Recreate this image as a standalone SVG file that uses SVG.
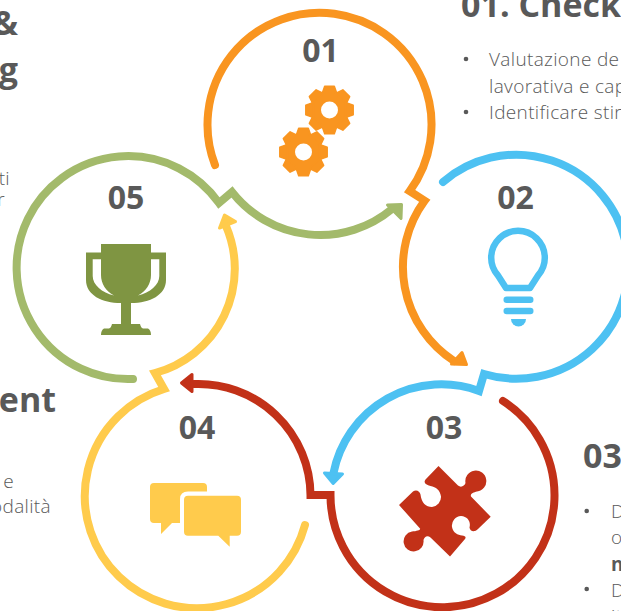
<svg xmlns="http://www.w3.org/2000/svg" width="621" height="611" viewBox="0 0 621 611">
<style>
.h{font-family:"Open Sans","Liberation Sans",sans-serif;font-weight:700;font-size:34px;fill:#595959}
.n{font-family:"Open Sans","Liberation Sans",sans-serif;font-weight:700;font-size:32px;fill:#595959;text-anchor:middle}
.b{font-family:"Open Sans","Liberation Sans",sans-serif;font-weight:300;font-size:19px;letter-spacing:.35px;fill:#595959}
.bb{font-weight:700}
.e{text-anchor:end}
.r{fill:none;stroke-width:8;stroke-linecap:round;stroke-linejoin:miter;stroke-miterlimit:10}
.a{stroke-width:3;stroke-linejoin:round}
.orange{stroke:#F99520}.blue{stroke:#4DC1F2}.red{stroke:#C23118}.yellow{stroke:#FFCB4C}.green{stroke:#A3BA6B}
.fo{fill:#F99520}.fb{fill:#4DC1F2}.fr{fill:#C23118}.fy{fill:#FFCB4C}.fg{fill:#A3BA6B}
.gear{fill:#F99520;stroke:#F99520;stroke-width:1.5;stroke-linejoin:round}
</style>
<defs>
<g id="gear">
<circle r="18.500"/>
<g id="t4"><path id="tooth" d="M-4.800-23.700H4.800L7.500-16H-7.500Z"/><use href="#tooth" transform="rotate(45)"/><use href="#tooth" transform="rotate(90)"/><use href="#tooth" transform="rotate(135)"/></g>
<use href="#t4" transform="rotate(180)"/>
<circle r="8.500" fill="#fff" stroke="none"/>
</g>
</defs>
<rect width="621" height="611" fill="#fff"/>
<g id="connectors">
<path class="r orange" d="M215 165A112 112 0 1 1 409.700 191.100L424.700 200.700A112 112 0 0 0 454 361"/>
<polygon class="a orange fo" points="451.500,364 462,352.500 466.500,364.500"/>
<path class="r blue" d="M443 182A112 112 0 1 1 484 374L479 391A110 110 0 0 0 333.500 473"/>
<polygon class="a blue fb" points="324.500,473 342.500,474 333.200,483.500"/>
<path class="r red" d="M503 401A112 112 0 1 1 330.500 495H310.500A112 112 0 0 0 194 384"/>
<polygon class="a red fr" points="181.500,383 192,374.500 192,391.500"/>
<path class="r yellow" d="M305 525A112 112 0 1 1 164 389L155 373A108 108 0 0 0 226 226"/>
<polygon class="a yellow fy" points="224.500,215 219.500,228 235.500,221.500"/>
<path class="r green" d="M133 379A111.500 111.500 0 1 1 219 203L232 192A112 112 0 0 0 392 209"/>
<polygon class="a green fg" points="401.500,204.500 387.500,205 401,218.500"/>
</g>
<g id="node-01">
<text class="n" x="320.500" y="62">01</text>
<use href="#gear" class="gear" x="329.500" y="110"/>
<use href="#gear" class="gear" x="303.500" y="152"/>
</g>
<g id="node-02">
<text class="n" x="515.500" y="209">02</text>
<path d="M506 288H530L538 275.500A26.800 26.800 0 1 0 498 275.500Z" fill="none" stroke="#4DC1F2" stroke-width="6.500" stroke-linejoin="round"/>
<rect class="fb" x="503.500" y="296.500" width="30" height="6.500" rx="3.200"/>
<rect class="fb" x="503.500" y="307.800" width="30" height="6.500" rx="3.200"/>
<path class="fb" d="M511 319H526A7.500 7.500 0 0 1 511 319Z"/>
</g>
<g id="node-03">
<text class="n" x="444" y="439">03</text>
<path class="fr" d="M438.500 466L458 485.500C461 488 464.500 486 465.500 483A10.500 10.500 0 1 1 477 491.500C473.500 492.500 470 493.500 471 496.500L490.700 516.700L478 529C474 533 470 531 469.500 527.500C471 522 468 516.500 461 516A9.700 9.700 0 0 0 452 527C453 533 458 535 462 535.500C465 536 466.500 537 465 539L450 556.500L430.500 537.500C427 534.500 424 537.500 423.500 540A10 10 0 1 1 412 531.500C417 531 421 530 420 528.500L399 505L413 491.500C416 489 420 491 420.500 494.500C421.500 503 426 507 432 507A10 10 0 0 0 441 496.500C440 490 436 487 430.500 486C426 485 423 483 425.500 479.500Z"/>
</g>
<g id="node-04">
<text class="n" x="197" y="439">04</text>
<path class="fy" d="M154 483H203Q207 483 207 487V500H184V523H172L161 534V523H154Q150 523 150 519V487Q150 483 154 483Z"/>
<path d="M180 532V499Q180 491.500 188 491.500H209V532Z" fill="#fff"/>
<path class="fy" d="M188 495.700H237Q241 495.700 241 499.700V531.700Q241 535.700 237 535.700H229.700V546.700L218.300 535.700H188Q184 535.700 184 531.700V499.700Q184 495.700 188 495.700Z"/>
</g>
<g id="node-05">
<text class="n" x="126" y="209">05</text>
<path fill="#7F9542" fill-rule="evenodd" d="M86 252.500H101V244H151V252.500H166V280C166 295 150 303 131 303V324H140Q141 328 143 328.500H148Q151 330 151 335H101Q101 330 104 328.500H109Q111 328 112 324H121V303C102 303 86 295 86 280ZM92.700 259.300V276C92.700 285 102 292.500 114 295.500C106 291 101 284 101 275V259.300ZM159.300 259.300H151V275C151 284 146 291 138 295.500C150 292.500 159.300 285 159.300 276Z"/>
</g>
<g id="text-left">
<text class="h e" x="18" y="35">&amp;</text>
<text class="h e" x="18" y="82">g</text>
<text class="b e" x="10" y="185">ti</text>
<text class="b e" x="5" y="206">r</text>
<text class="h e" x="56" y="412">ent</text>
<text class="b e" x="14" y="488">e</text>
<text class="b e" x="51" y="513">odalità</text>
</g>
<g id="text-01">
<text class="h" x="461" y="17">01. Check</text>
<circle cx="466" cy="59" r="2.300" fill="#595959"/>
<text class="b" x="489" y="66">Valutazione de</text>
<text class="b" x="489" y="93">lavorativa e cap</text>
<circle cx="466" cy="112" r="2.300" fill="#595959"/>
<text class="b" x="489" y="119">Identificare stir</text>
</g>
<g id="text-03">
<text class="h" x="583" y="468">03</text>
<circle cx="586.700" cy="511" r="2.300" fill="#595959"/>
<text class="b" x="611" y="518">D</text>
<text class="b" x="611" y="544">o</text>
<text class="b bb" x="611" y="571">n</text>
<circle cx="586.700" cy="589" r="2.300" fill="#595959"/>
<text class="b" x="611" y="597">D</text>
<text class="b" x="611" y="623">it</text>
</g>
</svg>
